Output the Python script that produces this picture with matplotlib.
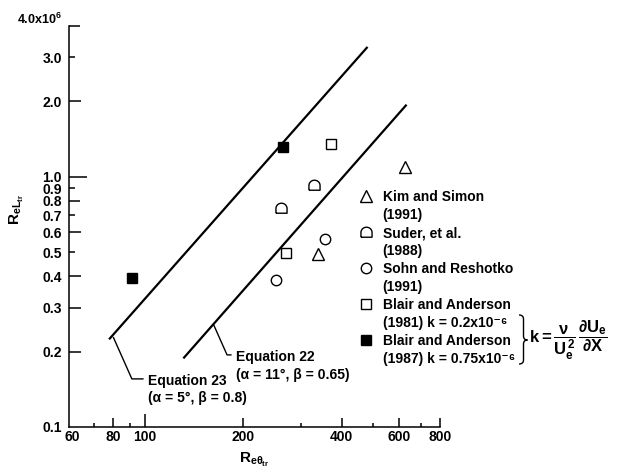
import numpy as np
import matplotlib
matplotlib.use("Agg")
import matplotlib.pyplot as plt
from matplotlib.path import Path
from matplotlib.patches import PathPatch
from matplotlib.lines import Line2D
from matplotlib.ticker import FixedLocator, FixedFormatter, NullLocator, NullFormatter
from matplotlib.transforms import IdentityTransform

plt.rcParams.update({
    "font.family": ["Liberation Sans", "DejaVu Sans"],
    "font.weight": "bold",
    "font.size": 10,
    "mathtext.fontset": "custom",
    "mathtext.rm": "Liberation Sans:bold",
    "mathtext.it": "Liberation Sans:bold",
    "mathtext.bf": "Liberation Sans:bold",
    "mathtext.sf": "Liberation Sans:bold",
    "mathtext.default": "it",
})

# ---------------- data (Re_L in units of 1e6) ----------------
kim_x = [625, 338]
kim_y = [1.09, 0.49]
suder_x = [330, 261]
suder_y = [0.93, 0.75]
sohn_x = [355, 251]
sohn_y = [0.565, 0.388]
ba81_x = [370, 270]
ba81_y = [1.35, 0.495]
ba87_x = [91, 265]
ba87_y = [0.395, 1.32]

eq23_x = [77.6, 480]
eq23_y = [0.224, 3.30]
eq22_x = [131, 632]
eq22_y = [0.188, 1.94]

series_names = ["Kim and Simon", "Suder, et al.", "Sohn and Reshotko",
                "Blair and Anderson", "Blair and Anderson"]
series_years = ["(1991)", "(1988)", "(1991)",
                "(1981) k = 0.2x10⁻⁶", "(1987) k = 0.75x10⁻⁶"]

x_ticks = [60, 80, 100, 200, 400, 600, 800]
x_tick_labels = ["60", "80", "100", "200", "400", "600", "800"]
x_minor_ticks = [70, 90, 300, 500, 700]
y_ticks = [0.1, 0.2, 0.3, 0.4, 0.5, 0.6, 0.7, 0.8, 0.9, 1.0, 2.0, 3.0, 4.0]
y_tick_labels = ["0.1", "0.2", "0.3", "0.4", "0.5", "0.6", "0.7", "0.8",
                 "0.9", "1.0", "2.0", "3.0", ""]

# ---------------- styling ----------------
x_tick_len_px = [0, 9, 13, 9, 9, 9, 9]
y_tick_len_px = [0, 12, 12, 12, 6, 12, 6, 11, 6, 18, 12, 6, 11]
PT = 0.72  # px -> pt at 100 dpi

W, H = 619, 468
fig = plt.figure(figsize=(W / 100, H / 100), dpi=100)
ax = fig.add_axes([69 / W, 41 / H, 371 / W, 401 / H])
ax.set_xscale("log")
ax.set_yscale("log")
ax.set_xlim(58.5, 800)
ax.set_ylim(0.1, 4.0)

ax.plot(eq23_x, eq23_y, color="black", lw=1.6, solid_capstyle="butt", zorder=2)
ax.plot(eq22_x, eq22_y, color="black", lw=1.6, solid_capstyle="butt", zorder=2)

# dome-shaped marker (Suder)
th = np.linspace(0, np.pi, 25)
dome_verts = [(-1, -0.85), (1, -0.85)] + list(zip(np.cos(th), np.sin(th) * 0.95)) + [(-1, -0.85)]
dome = Path(dome_verts)

mk = dict(ls="none", mec="black", mew=1.0, zorder=3)
h_kim, = ax.plot(kim_x, kim_y, marker="^", ms=8, mfc="white", **mk)
h_suder, = ax.plot(suder_x, suder_y, marker=dome, ms=8, mfc="white", **mk)
h_sohn, = ax.plot(sohn_x, sohn_y, marker="o", ms=7.5, mfc="white", **mk)
h_ba81, = ax.plot(ba81_x, ba81_y, marker="s", ms=7, mfc="white", **mk)
h_ba87, = ax.plot(ba87_x, ba87_y, marker="s", ms=7, mfc="black", **mk)

# ---------------- axes ----------------
for s in ["top", "right"]:
    ax.spines[s].set_visible(False)
for s in ["left", "bottom"]:
    ax.spines[s].set_linewidth(1.1)

ax.xaxis.set_major_locator(FixedLocator(x_ticks))
ax.xaxis.set_major_formatter(FixedFormatter(x_tick_labels))
ax.xaxis.set_minor_locator(FixedLocator(x_minor_ticks))
ax.xaxis.set_minor_formatter(NullFormatter())
ax.yaxis.set_major_locator(FixedLocator(y_ticks))
ax.yaxis.set_major_formatter(FixedFormatter(y_tick_labels))
ax.yaxis.set_minor_locator(NullLocator())

ax.tick_params(axis="both", which="both", direction="in", width=1.1, labelsize=10)
ax.tick_params(axis="x", which="major", length=9 * PT, pad=2)
ax.tick_params(axis="x", which="minor", length=4.5 * PT)
ax.tick_params(axis="y", which="major", length=12 * PT, pad=5)
for t, L in zip(ax.xaxis.get_major_ticks(), x_tick_len_px):
    t.tick1line.set_markersize(L * PT)
for t, L in zip(ax.yaxis.get_major_ticks(), y_tick_len_px):
    t.tick1line.set_markersize(L * PT)

ax.annotate("4.0x10$^6$", xy=(0, 4.0), xycoords=("axes fraction", "data"),
            xytext=(-5, 1.3), textcoords="offset points", ha="right", va="baseline",
            fontsize=9)

ax.set_xlabel(r"$\mathrm{R}_{\mathrm{e}\theta_{\mathrm{tr}}}$", fontsize=11, labelpad=5)
ax.set_ylabel(r"$\mathrm{R}_{\mathrm{eL}_{\mathrm{tr}}}$", fontsize=11)
ax.yaxis.label.set_va("center")
ax.yaxis.label.set_ha("center")
ax.yaxis.set_label_coords((17 - 69) / 371, (427 - 209) / 401)

# ---------------- equation callouts ----------------
arrow = dict(arrowstyle="-", color="black", lw=1.0, shrinkA=1.5, shrinkB=0,
             relpos=(0, 0.65), connectionstyle="angle,angleA=0,angleB=-66,rad=0")
ax.annotate("Equation 23", xy=(80, 0.228), xycoords="data",
            xytext=(148, H - 381), textcoords="figure pixels",
            ha="left", va="center", fontsize=10, arrowprops=arrow)
ax.annotate("(α = 5°, β = 0.8)", xy=(148, H - 398), xycoords="figure pixels",
            ha="left", va="center", fontsize=10)
ax.annotate("Equation 22", xy=(162, 0.257), xycoords="data",
            xytext=(236, H - 357), textcoords="figure pixels",
            ha="left", va="center", fontsize=10, arrowprops=arrow)
ax.annotate("(α = 11°, β = 0.65)", xy=(236, H - 375), xycoords="figure pixels",
            ha="left", va="center", fontsize=10)

# ---------------- legend ----------------
blank = Line2D([], [], ls="", marker="")
handles, labels = [], []
for h, n, yr in zip([h_kim, h_suder, h_sohn, h_ba81, h_ba87], series_names, series_years):
    handles += [h, blank]
    labels += [n, yr]
fig.legend(handles, labels, loc="upper left",
           bbox_to_anchor=(359 / W, (H - 190) / H), bbox_transform=fig.transFigure,
           frameon=False, borderpad=0, borderaxespad=0, handlelength=1.0,
           handletextpad=0.7, labelspacing=0.29, fontsize=10)

# brace
x0, x1, x2 = 519, 523.5, 527.5
yt, ym, yb = H - 315, H - 340, H - 364
bverts = [(x0, yt), (x1, yt), (x1, yt - 4), (x1, ym + 4), (x1, ym), (x2, ym),
          (x1, ym), (x1, ym - 4), (x1, yb + 4), (x1, yb), (x0, yb)]
bcodes = [Path.MOVETO, Path.CURVE3, Path.CURVE3, Path.LINETO, Path.CURVE3, Path.CURVE3,
          Path.CURVE3, Path.CURVE3, Path.LINETO, Path.CURVE3, Path.CURVE3]
fig.add_artist(PathPatch(Path(bverts, bcodes), fill=False, lw=1.0, ec="black",
                         transform=IdentityTransform()))
fig.text(529 / W, (H - 340) / H,
         r"$\mathrm{k} = \dfrac{\nu}{U_e^2}\,\dfrac{\partial U_e}{\partial X}$",
         ha="left", va="center", fontsize=12)

fig.savefig("out.png", dpi=100)
